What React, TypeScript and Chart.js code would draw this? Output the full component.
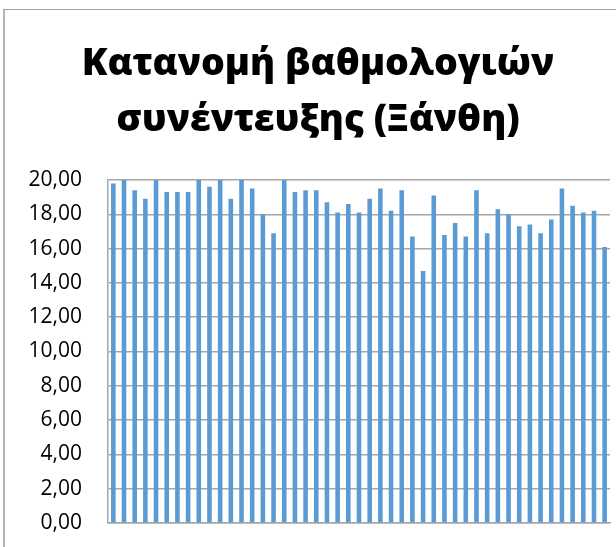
import React, { useEffect, useRef } from "react";
import { Chart, registerables } from "chart.js";

Chart.register(...registerables);

const TITLE_LINES = ["Κατανομή βαθμολογιών", "συνέντευξης (Ξάνθη)"];

const SCORES = [
  19.8, 20.0, 19.4, 18.9, 20.0, 19.3, 19.3, 19.3, 20.0, 19.6, 20.0, 18.9, 20.0, 19.5, 18.0, 16.9,
  20.0, 19.3, 19.4, 19.4, 18.7, 18.1, 18.6, 18.1, 18.9, 19.5, 18.2, 19.4, 16.7, 14.7, 19.1, 16.8,
  17.5, 16.7, 19.4, 16.9, 18.3, 18.0, 17.3, 17.4, 16.9, 17.7, 19.5, 18.5, 18.1, 18.2, 16.1,
];

const CATEGORIES = SCORES.map((_, i) => String(i + 1));

const Y_MIN = 0;
const Y_MAX = 20;
const Y_STEP = 2;

const BAR_COLOR = "#5b9bd5";
const GRID_COLOR = "#a6a6a6";

export default function App() {
  const canvasRef = useRef<HTMLCanvasElement | null>(null);

  useEffect(() => {
    if (!canvasRef.current) return;
    const chart = new Chart(canvasRef.current, {
      type: "bar",
      data: {
        labels: CATEGORIES,
        datasets: [
          {
            data: SCORES,
            backgroundColor: BAR_COLOR,
            borderWidth: 0,
            barPercentage: 0.43,
            categoryPercentage: 1,
          },
        ],
      },
      options: {
        animation: false,
        responsive: false,
        maintainAspectRatio: false,
        layout: {
          padding: { left: 26, right: 6, top: 10, bottom: 24 },
        },
        plugins: {
          legend: { display: false },
          tooltip: { enabled: false },
          title: {
            display: true,
            text: TITLE_LINES,
            color: "#000000",
            font: { family: "'Open Sans', 'Noto Sans', sans-serif", size: 37.5, weight: "800", lineHeight: 56 / 37.5 },
            padding: { top: 26, bottom: 32 },
          },
        },
        scales: {
          x: {
            grid: { display: false, drawTicks: false },
            border: { display: true, color: GRID_COLOR, width: 1.5 },
            ticks: { display: false },
            afterFit: (scale: any) => {
              scale.height = 0;
            },
          },
          y: {
            min: Y_MIN,
            max: Y_MAX,
            grid: { color: GRID_COLOR, lineWidth: 1.5, drawTicks: true, tickLength: 26, tickColor: "rgba(0,0,0,0)" },
            border: { display: true, color: GRID_COLOR, width: 1.5 },
            ticks: {
              stepSize: Y_STEP,
              padding: 0,
              color: "#000000",
              font: { family: "'Open Sans', 'Noto Sans', sans-serif", size: 21 },
              callback: (v: any) => Number(v).toFixed(2).replace(".", ","),
            },
            afterFit: (scale: any) => {
              scale.width = 82;
            },
          },
        },
      },
    });
    return () => chart.destroy();
  }, []);

  return (
    <div style={{ position: "absolute", left: 0, top: 0, width: 616, height: 547, overflow: "hidden", background: "#ffffff" }}>
      <div
        style={{
          position: "absolute",
          left: 3,
          top: 9,
          width: 640,
          height: 600,
          borderLeft: "2px solid #b4b4b4",
          borderTop: "1px solid #a0a0a0",
        }}
      />
      <canvas ref={canvasRef} width={616} height={547} style={{ position: "absolute", left: 0, top: 0 }} />
    </div>
  );
}
